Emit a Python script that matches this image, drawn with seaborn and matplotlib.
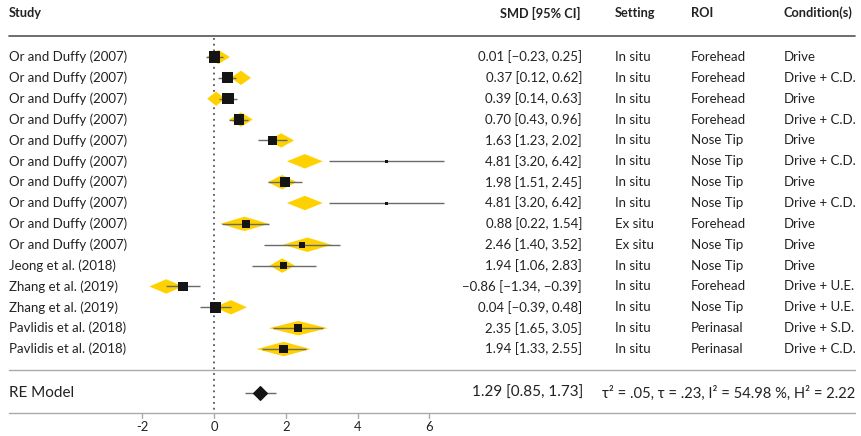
import numpy as np
import pandas as pd
import matplotlib.pyplot as plt
import matplotlib.transforms as mtransforms
from matplotlib.patches import Polygon
import seaborn as sns

# study rows
studies = ["Or and Duffy (2007)"] * 10 + ["Jeong et al. (2018)", "Zhang et al. (2019)",
           "Zhang et al. (2019)", "Pavlidis et al. (2018)", "Pavlidis et al. (2018)"]
smd = [0.01, 0.37, 0.39, 0.70, 1.63, 4.81, 1.98, 4.81, 0.88, 2.46, 1.94, -0.86, 0.04, 2.35, 1.94]
ci_lo = [-0.23, 0.12, 0.14, 0.43, 1.23, 3.20, 1.51, 3.20, 0.22, 1.40, 1.06, -1.34, -0.39, 1.65, 1.33]
ci_hi = [0.25, 0.62, 0.63, 0.96, 2.02, 6.42, 2.45, 6.42, 1.54, 3.52, 2.83, -0.39, 0.48, 3.05, 2.55]
setting = ["In situ"] * 8 + ["Ex situ", "Ex situ"] + ["In situ"] * 5
roi = ["Forehead"] * 4 + ["Nose Tip"] * 4 + ["Forehead", "Nose Tip", "Nose Tip", "Forehead",
       "Nose Tip", "Perinasal", "Perinasal"]
condition = ["Drive", "Drive + C.D.", "Drive", "Drive + C.D.", "Drive", "Drive + C.D.", "Drive",
             "Drive + C.D.", "Drive", "Drive", "Drive", "Drive + U.E.", "Drive + U.E.",
             "Drive + S.D.", "Drive + C.D."]
# square side (px) ~ weight
weight = [11, 11, 11, 10, 9, 3, 9, 3, 7, 5, 6, 9, 10, 7, 8]
# fitted values (yellow diamonds) and their interval half width
fitted = [0.12, 0.75, 0.06, 0.75, 1.87, 2.53, 1.90, 2.53, 0.85, 2.60, 1.90, -1.33, 0.47, 2.35, 1.94]
fit_hw = [0.32, 0.28, 0.25, 0.33, 0.36, 0.50, 0.40, 0.50, 0.68, 0.68, 0.35, 0.47, 0.45, 0.82, 0.75]

re_est, re_lo, re_hi = 1.29, 0.85, 1.73
re_stats = "τ² = .05, τ = .23, I² = 54.98 %, H² = 2.22"
xticks = [-2, 0, 2, 4, 6]

def fmt(v):
    return f"{v:.2f}".replace("-", "\u2212")

df = pd.DataFrame({"study": studies, "smd": smd, "lo": ci_lo, "hi": ci_hi,
                   "w": weight, "fit": fitted, "hw": fit_hw})
df["row"] = np.arange(len(df))

sns.set_theme(style="white")
plt.rcParams["font.family"] = ["Lato", "DejaVu Sans"]

W, H = 861, 436
fig = plt.figure(figsize=(W / 100, H / 100), dpi=100)
ax = fig.add_axes([0, 0, 1, 1])
px_unit = 35.9
x0 = 214
ax.set_xlim(-x0 / px_unit, (W - x0) / px_unit)
row_px = 20.86
y0 = 57
ax.set_ylim((H - y0) / row_px, -y0 / row_px)
ax.axis("off")

yellow = "#FFD100"
# fitted diamonds
for _, r in df.iterrows():
    dh = 7.2 / row_px
    ax.add_patch(Polygon([(r.fit - r.hw, r.row), (r.fit, r.row - dh),
                          (r.fit + r.hw, r.row), (r.fit, r.row + dh)],
                         closed=True, fc=yellow, ec="none", zorder=2))

# confidence intervals
ax.hlines(df["row"], df["lo"], df["hi"], color="#6a6a6a", lw=1.0, zorder=3)
sns.scatterplot(data=df, x="smd", y="row", size="w", sizes=(3 ** 2 * 0.52, 11 ** 2 * 0.52),
                marker="s", color="#141414", edgecolor="none", legend=False, ax=ax, zorder=4)

# RE model
y_re = (393 - y0) / row_px
ax.hlines(y_re, re_lo, re_hi, color="#6a6a6a", lw=1.0, zorder=3)
ax.scatter([re_est], [y_re], marker="D", s=48, color="#141414", zorder=4)

# reference line at 0
y_top = (38 - y0) / row_px
y_axis = (413 - y0) / row_px
ax.vlines(0, y_top, y_axis, color="#555555", lw=1.3, linestyles=(0, (1, 2.2)), zorder=1)

# horizontal rules
blend = mtransforms.blended_transform_factory(fig.transFigure, ax.transData)
xl, xr = 9 / W, 855 / W
ax.plot([xl, xr], [(36 - y0) / row_px] * 2, color="#555555", lw=1.2, transform=blend)
ax.plot([xl, xr], [(370 - y0) / row_px] * 2, color="#aaaaaa", lw=1.0, transform=blend)
ax.plot([xl, xr], [y_axis] * 2, color="#aaaaaa", lw=1.0, transform=blend)

# x ticks
for t in xticks:
    ax.plot([t, t], [y_axis, y_axis + 5 / row_px], color="#aaaaaa", lw=1.0)
    ax.text(t, (427 - y0) / row_px, str(t), ha="center", va="center", fontsize=9.4, color="#222222")

# headers
y_head = (13 - y0) / row_px
hk = dict(fontsize=9.2, fontweight="bold", va="center", color="#222222", transform=blend)
ax.text(9 / W, y_head, "Study", ha="left", **hk)
ax.text(580 / W, y_head, "SMD [95% CI]", ha="right", **hk)
ax.text(615 / W, y_head, "Setting", ha="left", **hk)
ax.text(691 / W, y_head, "ROI", ha="left", **hk)
ax.text(784 / W, y_head, "Condition(s)", ha="left", **hk)

# table body
tk = dict(fontsize=9.5, va="center", color="#222222", transform=blend)
for i in range(len(df)):
    ax.text(9 / W, i, studies[i], ha="left", **tk)
    ax.text(582 / W, i, f"{fmt(smd[i])} [{fmt(ci_lo[i])}, {fmt(ci_hi[i])}]", ha="right", **tk)
    ax.text(615 / W, i, setting[i], ha="left", **tk)
    ax.text(691 / W, i, roi[i], ha="left", **tk)
    ax.text(784 / W, i, condition[i], ha="left", **tk)

rk = dict(fontsize=11, va="center", color="#222222", transform=blend)
ax.text(9 / W, y_re, "RE Model", ha="left", **rk)
ax.text(583 / W, y_re, f"{fmt(re_est)} [{fmt(re_lo)}, {fmt(re_hi)}]", ha="right", **rk)
ax.text(855 / W, y_re, re_stats, ha="right", fontsize=10.6, va="center", color="#222222",
        transform=blend)

fig.savefig("out.png", dpi=100)
